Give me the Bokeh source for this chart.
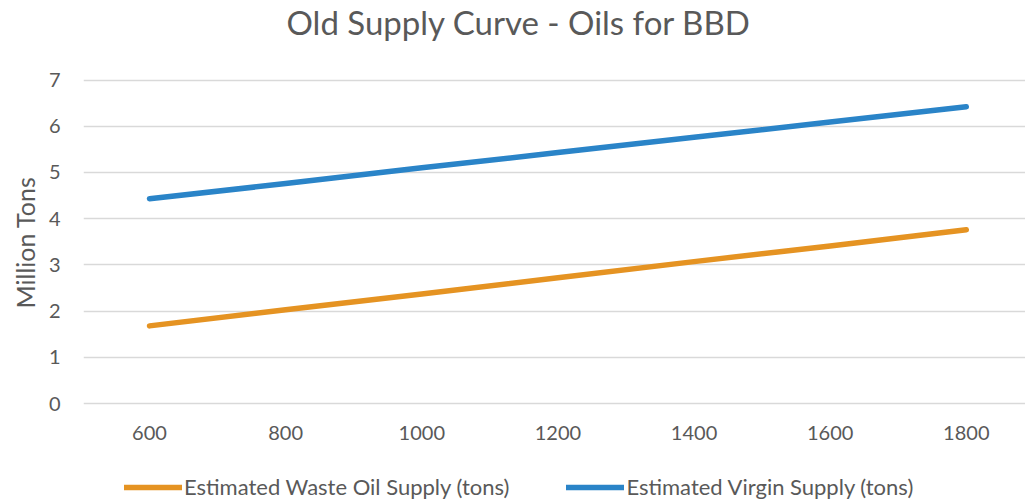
from bokeh.plotting import figure
from bokeh.models import Range1d, FixedTicker, Legend, LegendItem, ColumnDataSource, Title, Label
from bokeh.core.properties import value
from bokeh.embed import file_html
from bokeh.resources import INLINE

# Price points (x categories) and estimated supply in million tons
price_points = [600, 800, 1000, 1200, 1400, 1600, 1800]
waste_oil_supply = [1.68, 2.03, 2.37, 2.72, 3.07, 3.41, 3.76]
virgin_supply = [4.43, 4.76, 5.10, 5.43, 5.76, 6.09, 6.42]
y_ticks = [0, 1, 2, 3, 4, 5, 6, 7]

chart_title = "Old Supply Curve - Oils for BBD"
series_names = ["Estimated Waste Oil Supply (tons)", "Estimated Virgin Supply (tons)"]
ORANGE = "#E59322"
BLUE = "#2A84C8"
TEXT = "#595959"
GRID = "#D9D9D9"
FONT = "Lato"

# the frame fills the full height; heading and legend sit inside it
p = figure(
    width=1025, height=500,
    output_backend="svg", toolbar_location=None,
    x_range=Range1d(503, 1887), y_range=Range1d(-2.099, 8.721),
    x_axis_location=None,
    min_border_left=83, min_border_right=0,
    min_border_top=0, min_border_bottom=0,
    background_fill_color="white", border_fill_color="white",
    outline_line_color=None,
)

# chart heading, in screen units from the frame's lower-left corner
p.add_layout(Label(x=203, y=479, x_units="screen", y_units="screen",
                   text=chart_title, text_baseline="alphabetic", text_align="left",
                   text_font=FONT, text_font_size="33px", text_color=TEXT))

waste = p.line(price_points, waste_oil_supply, line_color=ORANGE, line_width=5.5,
               line_cap="round", line_join="round")
virgin = p.line(price_points, virgin_supply, line_color=BLUE, line_width=5.5,
                line_cap="round", line_join="round")

# category labels along the zero baseline
xlab = ColumnDataSource(dict(x=price_points, y=[y_ticks[0]] * len(price_points),
                             t=[str(v) for v in price_points]))
p.text(x="x", y="y", text="t", source=xlab, y_offset=22,
       text_align="center", text_baseline="top",
       text_font=value(FONT), text_font_size=value("20px"), text_color=TEXT)

p.yaxis.ticker = FixedTicker(ticks=y_ticks)
ax = p.yaxis[0]
ax.axis_line_color = None
ax.major_tick_line_color = None
ax.minor_tick_line_color = None
ax.major_tick_out = 0
ax.major_tick_in = 0
ax.major_label_text_font = FONT
ax.major_label_text_font_size = "20px"
ax.major_label_text_color = TEXT
ax.major_label_standoff = 23

# value-axis title, centred on the 0-7 span rather than the whole frame
p.add_layout(Title(text="Million Tons", align="left", offset=192, standoff=12,
                   text_font=FONT, text_font_size="25px", text_font_style="normal",
                   text_color=TEXT), "left")

p.xgrid.grid_line_color = None
p.ygrid.grid_line_color = GRID
p.ygrid.grid_line_width = 1.5

legend = Legend(
    items=[LegendItem(label=series_names[0], renderers=[waste]),
           LegendItem(label=series_names[1], renderers=[virgin])],
    orientation="horizontal", location=(41, 0),
    glyph_width=58, glyph_height=20, label_standoff=2, spacing=57,
    label_text_font=FONT, label_text_font_size="22px", label_text_color=TEXT,
    border_line_color=None, background_fill_alpha=0,
    margin=0, padding=0,
)
p.add_layout(legend)

open("out.html", "w").write(file_html(p, INLINE))
